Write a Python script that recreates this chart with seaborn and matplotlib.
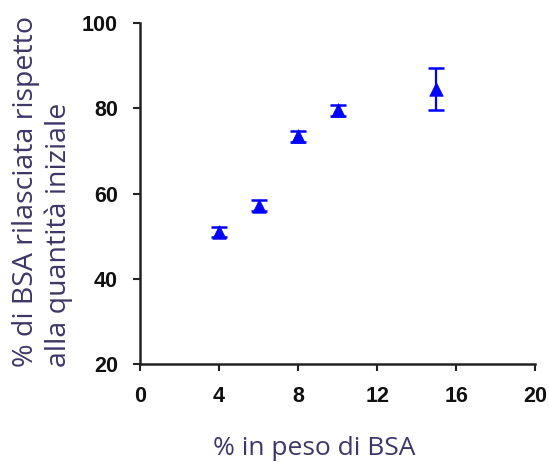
import matplotlib
matplotlib.use("Agg")
import matplotlib.pyplot as plt
import seaborn as sns
import pandas as pd

# data
bsa_wt = [4, 6, 8, 10, 15]
released = [51.0, 57.2, 73.4, 79.5, 84.5]
err = [1.2, 1.3, 1.3, 1.2, 5.0]

x_ticks = [0, 4, 8, 12, 16, 20]
y_ticks = [20, 40, 60, 80, 100]

df = pd.DataFrame({"bsa": bsa_wt, "rel": released, "err": err})

sns.set_style("ticks")
plt.rcParams["font.family"] = ["Liberation Sans", "DejaVu Sans"]

fig = plt.figure(figsize=(5.49, 4.62), dpi=100)
ax = fig.add_axes([0.255, 0.212, 0.72, 0.738])

ax.errorbar(df["bsa"], df["rel"], yerr=df["err"], fmt="none",
            ecolor="#0000ff", elinewidth=1.6, capsize=6, capthick=1.8, zorder=2)
sns.scatterplot(data=df, x="bsa", y="rel", marker="^", s=95, color="#0000ff",
                edgecolor="#0000ff", linewidth=0.5, ax=ax, zorder=3)

ax.set_xlim(0, 20)
ax.set_ylim(20, 100)
ax.set_xticks(x_ticks)
ax.set_yticks(y_ticks)
ax.tick_params(axis="both", direction="out", length=5, width=1.5, color="#222222",
               labelsize=15.5, pad=11)
for lab in ax.get_xticklabels() + ax.get_yticklabels():
    lab.set_fontweight("bold")
    lab.set_color("#111111")

for side in ["top", "right"]:
    ax.spines[side].set_visible(False)
for side in ["left", "bottom"]:
    ax.spines[side].set_linewidth(1.8)
    ax.spines[side].set_color("#222222")

txt_col = "#3f3668"
lab_font = ["Open Sans", "DejaVu Sans"]
ax.set_xlabel("% in peso di BSA", fontsize=19, color=txt_col, family=lab_font, va="top")
ax.xaxis.set_label_coords(0.44, -0.212)
ax.set_ylabel("")
fig.text(0.048, 0.205, "% di BSA rilasciata rispetto", rotation=90, fontsize=20.5,
         color=txt_col, family=lab_font, ha="center", va="bottom")
fig.text(0.107, 0.205, "alla quantità iniziale", rotation=90, fontsize=20.5,
         color=txt_col, family=lab_font, ha="center", va="bottom")

fig.savefig("out.png", dpi=100)
